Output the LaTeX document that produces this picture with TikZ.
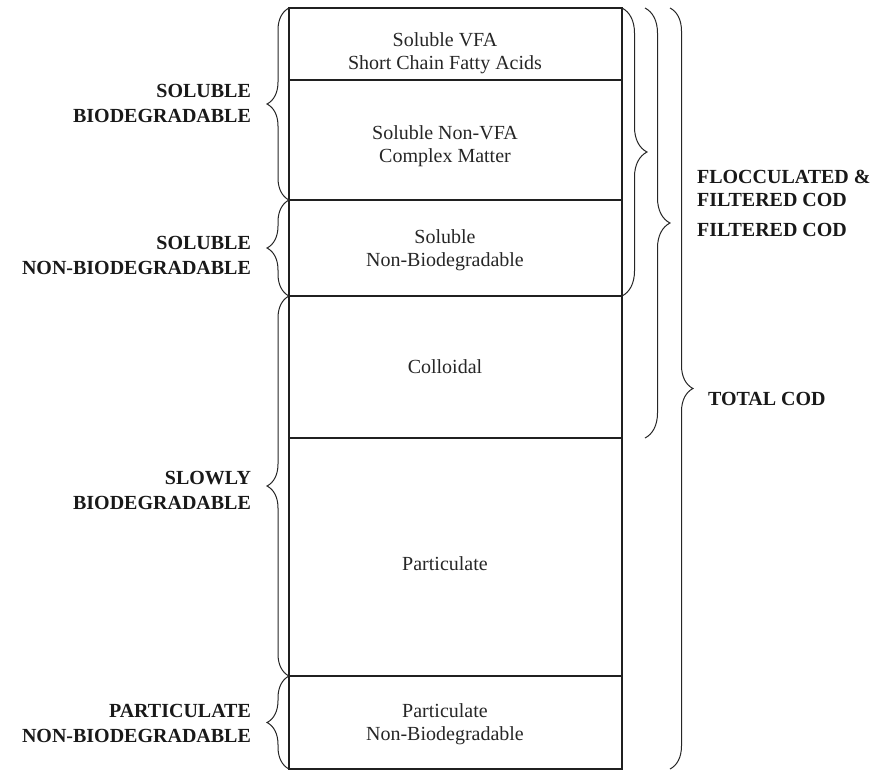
\documentclass[tikz,border=0pt]{standalone}
\usepackage{fontspec}
\setmainfont{Liberation Serif}
\usetikzlibrary{decorations.pathreplacing}

\tikzset{
  codline/.style={gray!25!black,line width=0.7pt},
  bracket/.style={gray!30!black,line width=0.5pt,decorate,decoration={brace,amplitude=#1}},
  fraction/.style={align=center,text=black!85,font=\fontsize{10}{11.5}\selectfont},
  group/.style={align=right,anchor=east,text=black!90,font=\bfseries\fontsize{10}{12.5}\selectfont},
  total/.style={align=left,anchor=west,text=black!90,font=\bfseries\fontsize{10}{11.5}\selectfont}
}

\begin{document}
\begin{tikzpicture}[x=0.5pt,y=-0.5pt]
\useasboundingbox (0,0) rectangle (875,773);
% row boundaries of the COD column
\foreach \i/\y in {0/8,1/80,2/200,3/296,4/438,5/676,6/769} {
  \coordinate (L\i) at (289,\y);
  \coordinate (R\i) at (622,\y);
}
\draw[codline] (L0) rectangle (R6);
\foreach \i in {1,...,5} {
  \draw[codline] (L\i) -- (R\i);
}
% fractions inside the column
\foreach \n/\y/\txt in {vfa/53/{Soluble VFA\\Short Chain Fatty Acids},
                        cplx/146/{Soluble Non-VFA\\Complex Matter},
                        snb/250/{Soluble\\Non-Biodegradable},
                        coll/367/{Colloidal},
                        part/564/{Particulate},
                        pnb/724/{Particulate\\Non-Biodegradable}} {
  \node[fraction] (\n) at (445,\y) {\txt};
}
% left groups
\draw[bracket=11pt] (L2) -- (L0);
\draw[bracket=11pt] (L3) -- (L2);
\draw[bracket=11pt] (L5) -- (L3);
\draw[bracket=11pt] (L6) -- (L5);
\node[group] (sbio) at (258,103) {SOLUBLE\\BIODEGRADABLE};
\node[group] (snbio) at (258,255) {SOLUBLE\\NON-BIODEGRADABLE};
\node[group] (slow) at (258,490) {SLOWLY\\BIODEGRADABLE};
\node[group] (pnbio) at (258,723) {PARTICULATE\\NON-BIODEGRADABLE};
% right groups
\coordinate (F0) at (645,8);
\coordinate (F4) at (645,438);
\coordinate (T0) at (670,8);
\coordinate (T6) at (670,769);
\draw[bracket=12.5pt] (R0) -- (R3);
\draw[bracket=12.5pt] (F0) -- (F4);
\draw[bracket=11.5pt] (T0) -- (T6);
\node[total] (floc) at (690,188) {FLOCCULATED \&\\FILTERED COD};
\node[total] (filt) at (690,230) {FILTERED COD};
\node[total] (tot) at (701,399) {TOTAL COD};
\end{tikzpicture}
\end{document}
